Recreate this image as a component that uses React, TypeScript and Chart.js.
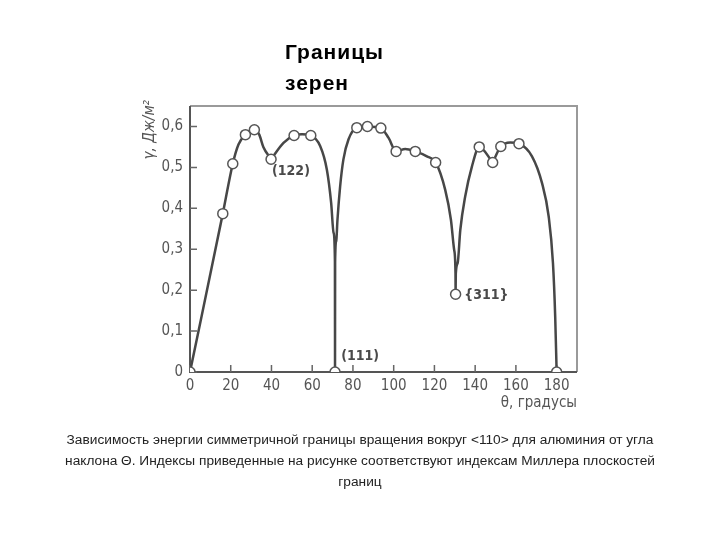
import React, { useEffect, useRef } from "react";
import { Chart, registerables } from "chart.js";

Chart.register(...registerables);

// Marker points (θ, degrees ; γ, J/m²)
const markerTheta = [0, 16.1, 21.0, 27.2, 31.6, 39.8, 51.1, 59.3, 71.2, 81.9, 87.1, 93.7, 101.2, 110.6, 120.6, 130.4, 142.0, 148.6, 152.6, 161.5, 180];
const markerGamma = [0, 0.387, 0.509, 0.58, 0.592, 0.52, 0.578, 0.578, 0, 0.597, 0.6, 0.596, 0.539, 0.539, 0.512, 0.19, 0.55, 0.512, 0.551, 0.558, 0];

// Curve (null = break between arcs)
const curveTheta = [
  0, 16.1, 21.0, 23.8, 27.2, 31.6, 34.0, 36.0, 39.8, NaN,
  39.8, 45.9, 51.1, 55.0, 59.3, 63.9, 67.2, 69.3, 70.5, 71.15, 71.2, NaN,
  71.2, 71.25, 71.8, 72.4, 73.7, 75.3, 77.8, 81.9, 87.1, 93.7, 97.5, 101.2, 105.7, 110.6, 116.3, 120.6, 125.3, 128.1, 129.7, 130.35, 130.4, NaN,
  130.4, 130.5, 131.4, 132.7, 135.1, 138.4, 142.0, 148.6, NaN,
  148.6, 152.6, 157.2, 161.5, 167.9, 172.8, 176.1, 178.2, 179.3, 180,
];
const curveGamma = [
  0, 0.387, 0.509, 0.556, 0.58, 0.592, 0.58, 0.55, 0.52, null,
  0.52, 0.56, 0.578, 0.581, 0.578, 0.552, 0.494, 0.413, 0.34, 0.27, 0, null,
  0, 0.27, 0.32, 0.372, 0.453, 0.519, 0.568, 0.597, 0.6, 0.596, 0.572, 0.539, 0.545, 0.539, 0.527, 0.512, 0.445, 0.372, 0.298, 0.24, 0.19, null,
  0.19, 0.24, 0.266, 0.347, 0.429, 0.502, 0.55, 0.512, null,
  0.512, 0.551, 0.561, 0.558, 0.527, 0.462, 0.38, 0.266, 0.135, 0,
];

const xTicks = [0, 20, 40, 60, 80, 100, 120, 140, 160, 180];
const yTicks = [0, 0.1, 0.2, 0.3, 0.4, 0.5, 0.6];

const notes = [
  { text: "(122)", theta: 40.3, gamma: 0.49 },
  { text: "(111)", theta: 74.2, gamma: 0.038 },
  { text: "{311}", theta: 134.6, gamma: 0.188 },
];

const TITLE = "Границы\nзерен";
const CAPTION = [
  "Зависимость энергии симметричной границы вращения вокруг <110> для алюминия от угла",
  "наклона Θ. Индексы приведенные на рисунке соответствуют индексам Миллера плоскостей",
  "границ",
];
const Y_TITLE = "γ, Дж/м²";
const X_TITLE = "θ, градусы";

const tickFont = "'DejaVu Sans Condensed', 'Liberation Sans Narrow', 'Roboto', sans-serif";

const decorPlugin = {
  id: "decor",
  beforeDatasetsDraw(chart: any) {
    const { ctx, chartArea: a, scales } = chart;
    const xs = scales.x;
    const ys = scales.y;
    ctx.save();
    ctx.strokeStyle = "#9a9a9a";
    ctx.lineWidth = 2;
    ctx.beginPath();
    ctx.moveTo(a.left, a.top);
    ctx.lineTo(a.right, a.top);
    ctx.lineTo(a.right, a.bottom);
    ctx.stroke();
    ctx.strokeStyle = "#555";
    ctx.lineWidth = 2;
    ctx.beginPath();
    ctx.moveTo(a.left, a.top);
    ctx.lineTo(a.left, a.bottom);
    ctx.lineTo(a.right, a.bottom);
    ctx.stroke();
    ctx.lineWidth = 1.5;
    ctx.strokeStyle = "#666";
    ctx.beginPath();
    yTicks.forEach((v) => {
      const y = ys.getPixelForValue(v);
      ctx.moveTo(a.left, y);
      ctx.lineTo(a.left + 7, y);
    });
    xTicks.forEach((v) => {
      const x = xs.getPixelForValue(v);
      ctx.moveTo(x, a.bottom);
      ctx.lineTo(x, a.bottom - 7);
    });
    ctx.stroke();
    ctx.restore();
  },
  afterDatasetsDraw(chart: any) {
    const { ctx, chartArea: a, scales } = chart;
    const xs = scales.x;
    const ys = scales.y;
    ctx.save();
    ctx.fillStyle = "#4a4a4a";
    ctx.font = `bold 14px ${tickFont}`;
    ctx.textBaseline = "middle";
    ctx.textAlign = "left";
    notes.forEach((n) => {
      ctx.fillText(n.text, xs.getPixelForValue(n.theta), ys.getPixelForValue(n.gamma));
    });
    ctx.font = `15px ${tickFont}`;
    ctx.fillStyle = "#555";
    ctx.textAlign = "right";
    ctx.fillText(X_TITLE, a.right, a.bottom + 31);
    ctx.translate(a.left - 40, a.top - 6);
    ctx.rotate(-Math.PI / 2);
    ctx.textAlign = "right";
    ctx.font = `italic 15px ${tickFont}`;
    ctx.fillText(Y_TITLE, 0, 0);
    ctx.restore();
  },
};

export default function App() {
  const ref = useRef<HTMLCanvasElement>(null);
  useEffect(() => {
    if (!ref.current) return;
    const curve = curveTheta.map((t, i) => ({ x: t, y: curveGamma[i] }));
    const marks = markerTheta.map((t, i) => ({ x: t, y: markerGamma[i] }));
    const chart = new Chart(ref.current, {
      type: "line",
      data: {
        datasets: [
          {
            data: marks as any,
            showLine: false,
            pointRadius: 5,
            pointBackgroundColor: "#ffffff",
            pointBorderColor: "#555",
            pointBorderWidth: 1.5,
            order: 0,
          },
          {
            data: curve as any,
            borderColor: "#474747",
            borderWidth: 2.5,
            pointRadius: 0,
            cubicInterpolationMode: "monotone",
            spanGaps: false,
            order: 1,
          },
        ],
      },
      options: {
        animation: false,
        responsive: false,
        events: [],
        layout: { padding: { top: 106, right: 143, left: 0, bottom: 0 } },
        plugins: { legend: { display: false }, tooltip: { enabled: false }, title: { display: false } },
        scales: {
          x: {
            type: "linear",
            min: 0,
            max: 190,
            border: { display: false },
            grid: { display: false, drawTicks: false },
            afterFit: (s: any) => { s.height = 540 - 372; },
            ticks: {
              stepSize: 20,
              includeBounds: false,
              padding: 5,
              color: "#555",
              font: { family: tickFont, size: 15 },
            },
          },
          y: {
            type: "linear",
            min: 0,
            max: 0.65,
            border: { display: false },
            grid: { display: false, drawTicks: false },
            afterFit: (s: any) => { s.width = 190; },
            ticks: {
              stepSize: 0.1,
              includeBounds: false,
              padding: 7,
              color: "#555",
              font: { family: tickFont, size: 15 },
              callback: (v: any) => (v === 0 ? "0" : Number(v).toFixed(1).replace(".", ",")),
            },
          },
        },
      },
      plugins: [decorPlugin],
    });
    return () => chart.destroy();
  }, []);

  return (
    <div style={{ position: "fixed", left: 0, top: 0, width: 720, height: 540, background: "#fff" }}>
      <canvas ref={ref} width={720} height={540} style={{ position: "absolute", left: 0, top: 0 }} />
      <div
        style={{
          position: "absolute",
          left: 285,
          top: 36,
          fontFamily: "'Liberation Sans', Arial, sans-serif",
          fontWeight: "bold",
          fontSize: 21,
          letterSpacing: "1px",
          lineHeight: "31px",
          whiteSpace: "pre",
          color: "#000",
        }}
      >
        {TITLE}
      </div>
      <div
        style={{
          position: "absolute",
          left: 0,
          width: 720,
          top: 429,
          textAlign: "center",
          fontFamily: "'Liberation Sans', Arial, sans-serif",
          fontSize: 13.7,
          lineHeight: "21px",
          color: "#222",
        }}
      >
        {CAPTION.map((l, i) => (
          <div key={i}>{l}</div>
        ))}
      </div>
    </div>
  );
}
